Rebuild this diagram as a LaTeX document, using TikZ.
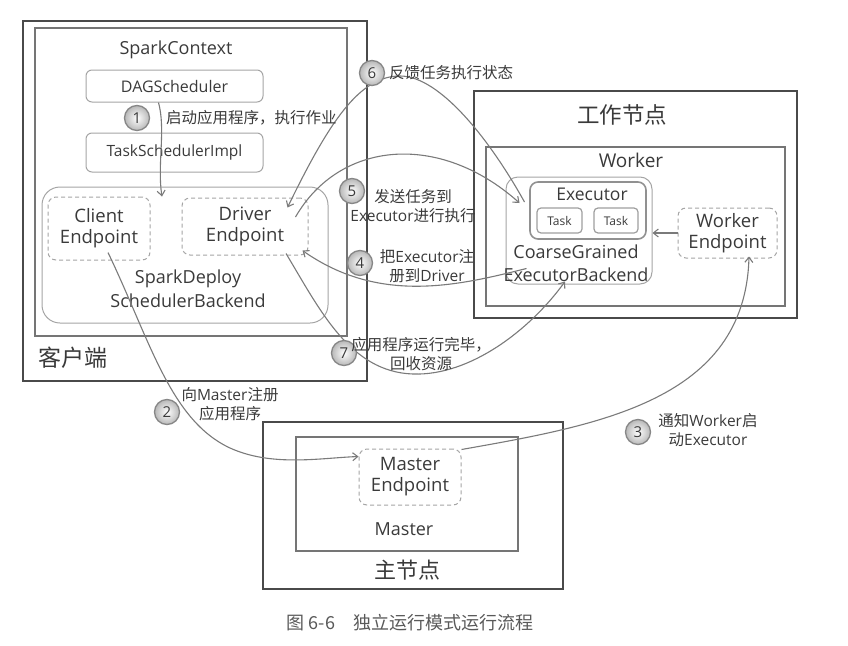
\documentclass[tikz,border=0pt]{standalone}
\usepackage{fontspec}
\setmainfont{Open Sans}
\newfontfamily\cjk{Noto Sans CJK SC}
\usetikzlibrary{arrows.meta}
\definecolor{ink}{HTML}{3A3A3A}
\definecolor{frame}{HTML}{4A4A4A}
\definecolor{inner}{HTML}{757575}
\definecolor{soft}{HTML}{A5A5A5}
\definecolor{wire}{HTML}{7A7A7A}
\newcommand{\fsz}[2]{\fontsize{#1}{#2}\selectfont}
\tikzset{
  outerbox/.style={draw=frame, line width=2.2pt, inner sep=0pt},
  innerbox/.style={draw=inner, line width=1.5pt, inner sep=0pt},
  roundbox/.style={draw=soft, line width=1pt, rounded corners=6pt, inner sep=0pt},
  dashbox/.style={draw=soft, line width=1pt, dash pattern=on 4pt off 3pt, rounded corners=8pt, inner sep=0pt, text=ink, align=center, font=\fsz{18.5}{21}},
  txt/.style={text=ink, inner sep=0pt, align=center},
  flow/.style={draw=wire, line width=1.1pt, -{Straight Barb[length=5pt,width=8pt]}},
  stepno/.style={circle, draw=wire!90, line width=1.3pt, minimum size=25pt, inner sep=0pt,
    inner color=white, outer color=black!28, text=ink, font=\fsz{15}{15}},
  lab/.style={text=ink, inner sep=0pt, align=center, font=\fsz{15.5}{18.5}}
}
\begin{document}
\begin{tikzpicture}[x=1pt,y=-1pt]
\useasboundingbox (0,0) rectangle (848,645);

% ---------- client side ----------
\node[outerbox, minimum width=344pt, minimum height=360pt] (client) at (195,201) {};
\node[innerbox, minimum width=312pt, minimum height=308pt] (sc) at (191,182) {};
\node[txt, font=\fsz{18}{21}] (sctext) at (176,50) {SparkContext};
\node[roundbox, minimum width=177pt, minimum height=32pt, txt, font=\fsz{16}{18}] (dag) at (174.5,86) {DAGScheduler};
\node[roundbox, minimum width=177pt, minimum height=39pt, txt, font=\fsz{15.5}{18}] (tsi) at (174.5,152.5) {TaskSchedulerImpl};
\node[roundbox, rounded corners=18pt, minimum width=286pt, minimum height=136pt] (backend) at (185,255) {};
\node[txt, font=\fsz{18}{24}] (backendtext) at (188,289) {SparkDeploy\\SchedulerBackend};
\node[dashbox, minimum width=102pt, minimum height=63pt] (cep) at (99,228.5) {Client\\Endpoint};
\node[dashbox, minimum width=126pt, minimum height=57pt] (drv) at (245,226.5) {Driver\\Endpoint};
\node[txt, font=\cjk\fsz{23}{23}] (clienttitle) at (73,358) {客户端};

% ---------- worker node ----------
\node[outerbox, minimum width=323pt, minimum height=227pt] (wnode) at (635.5,204.5) {};
\node[txt, font=\cjk\fsz{22.5}{22.5}] (wnodetitle) at (622,115) {工作节点};
\node[innerbox, minimum width=299pt, minimum height=159pt] (worker) at (635.5,226.5) {};
\node[txt, font=\fsz{19}{21}] (workertext) at (631,160) {Worker};
\node[roundbox, rounded corners=12pt, minimum width=146pt, minimum height=107pt] (cgeb) at (579,230.5) {};
\node[txt, font=\fsz{18}{23}] (cgebtext) at (576,263.5) {CoarseGrained\\ExecutorBackend};
\node[draw=inner!80, line width=1.6pt, rounded corners=8pt, minimum width=116pt, minimum height=57pt, inner sep=0pt] (exec) at (588,210.5) {};
\node[txt, font=\fsz{17.5}{20}] (exectext) at (592,194) {Executor};
\node[draw=inner!70, line width=1.2pt, rounded corners=4pt, minimum width=45pt, minimum height=25pt, txt, font=\fsz{12}{14}] (task1) at (559.5,220.5) {Task};
\node[draw=inner!70, line width=1.2pt, rounded corners=4pt, minimum width=44pt, minimum height=25pt, txt, font=\fsz{12}{14}] (task2) at (616,220.5) {Task};
\node[dashbox, minimum width=99pt, minimum height=50pt] (wep) at (727.5,233) {Worker\\Endpoint};

% ---------- master node ----------
\node[outerbox, minimum width=300pt, minimum height=167pt] (mnode) at (413,505.5) {};
\node[innerbox, minimum width=222pt, minimum height=114pt] (master) at (407,494) {};
\node[dashbox, minimum width=102pt, minimum height=56pt] (mep) at (410,477) {Master\\Endpoint};
\node[txt, font=\fsz{18}{20}] (mastertext) at (404,529) {Master};
\node[txt, font=\cjk\fsz{22}{22}] (mnodetitle) at (407,570) {主节点};

% ---------- message flow ----------
% 1: DAGScheduler -> backend
\draw[flow] ([xshift=-16pt]dag.south) .. controls (166,130) and (157,165) .. ([xshift=-23pt,yshift=-10pt]backend.north);
% 2: register application with the master
\draw[flow] ([xshift=9pt,yshift=8pt]cep.south) .. controls (150,340) and (170,420) .. (230,448)
  .. controls (272,467) and (320,458) .. ([yshift=-8pt]mep.north west);
% 3: master tells the worker to launch an executor
\draw[flow] ([xshift=0pt,yshift=-1pt]mep.north east) .. controls (600,425) and (745,400) .. ([xshift=21.5pt,yshift=2pt]wep.south);
% 4: executor registers with the driver
\draw[flow] ([xshift=21pt,yshift=16pt]cgeb.south west) .. controls (460,285) and (380,305) .. ([xshift=-6pt,yshift=5pt]drv.south east);
% 5: driver sends tasks to the executor
\draw[flow] ([xshift=-13pt,yshift=9.5pt]drv.east) .. controls (340,140) and (440,132) .. ([xshift=14pt,yshift=27.5pt]cgeb.west);
% 6: task status back to the driver
\draw[flow] ([xshift=19pt,yshift=28.5pt]cgeb.west) .. controls (490,140) and (440,76) .. (400,76)
  .. controls (360,76) and (330,120) .. ([xshift=-21pt,yshift=-10pt]drv.north east);
% 7: application finished, release resources
\draw[flow] ([xshift=41pt,yshift=2pt]drv.south) .. controls (320,310) and (350,372) .. (413,374)
  .. controls (470,376) and (530,330) .. ([xshift=-14pt,yshift=3pt]cgeb.south);
% worker endpoint -> executor backend
\draw[flow] (wep.west) -- (wep.west -| cgeb.east);

% ---------- step markers and labels ----------
\node[stepno] (s1) at (137,118) {1};
\node[lab, anchor=west] (l1) at (166,118) {\cjk 启动应用程序，执行作业};
\node[stepno] (s2) at (167,412) {2};
\node[lab] (l2) at (230,404) {{\cjk 向}Master{\cjk 注册}\\{\cjk 应用程序}};
\node[stepno] (s3) at (638,432) {3};
\node[lab] (l3) at (708,430) {{\cjk 通知}Worker{\cjk 启}\\{\cjk 动}Executor};
\node[stepno] (s4) at (360,263) {4};
\node[lab] (l4) at (427,266) {{\cjk 把}Executor{\cjk 注}\\{\cjk 册到}Driver};
\node[stepno] (s5) at (352,191) {5};
\node[lab] (l5) at (413,206) {{\cjk 发送任务到}\\Executor{\cjk 进行执行}};
\node[stepno] (s6) at (372,73) {6};
\node[lab, anchor=west] (l6) at (389,73) {\cjk 反馈任务执行状态};
\node[stepno] (s7) at (344,353) {7};
\node[lab] (l7) at (421,354) {\cjk 应用程序运行完毕，\\\cjk 回收资源};

% ---------- caption ----------
\node[text=black!65, inner sep=0pt, font=\cjk\fsz{18}{20}] (caption) at (410,623) {图 6-6\hspace{18pt}独立运行模式运行流程};
\end{tikzpicture}
\end{document}
